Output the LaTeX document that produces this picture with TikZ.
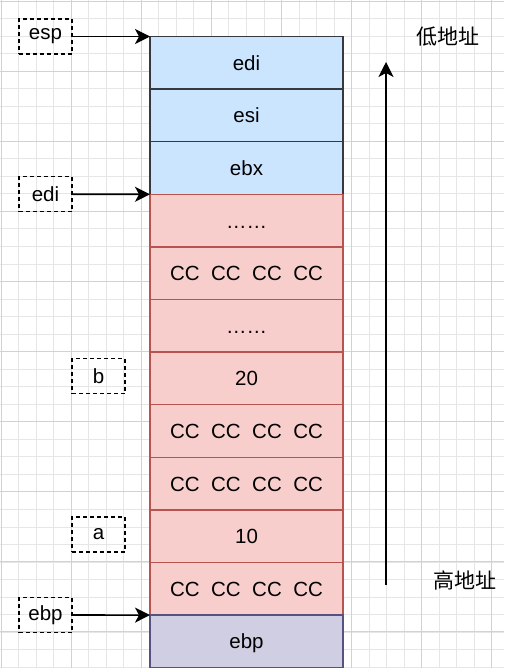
\documentclass[tikz,border=0pt]{standalone}
\usepackage{fontspec}
\setmainfont{Liberation Sans}
\newfontfamily\cjk{Noto Sans CJK SC}
\usetikzlibrary{positioning,arrows.meta}

\definecolor{gridmin}{HTML}{E6E6E6}
\definecolor{gridmaj}{HTML}{D2D2D2}
\definecolor{bluefill}{HTML}{CCE5FF}
\definecolor{blueline}{HTML}{36393D}
\definecolor{pinkfill}{HTML}{F8CECC}
\definecolor{pinkline}{HTML}{B85450}
\definecolor{purpfill}{HTML}{D0CEE2}
\definecolor{purpline}{HTML}{56517E}

\newcommand{\cc}{CC\hspace{11.5pt}CC\hspace{11.5pt}CC\hspace{11.5pt}CC}

\begin{document}
\begin{tikzpicture}[x=1pt, y=-1pt,
  >={Stealth[length=15pt, width=15pt, inset=4pt]},
  gmin/.style={draw=gridmin, line width=0.8pt},
  gmaj/.style={draw=gridmaj, line width=0.9pt},
  cell/.style={draw, line width=1.3pt, outer sep=0pt, inner sep=0pt,
               minimum width=193pt, minimum height=52.6pt,
               text height=14.8pt, text depth=0pt,
               font=\fontsize{20.5}{24}\selectfont},
  bl/.style={cell, fill=bluefill, draw=blueline},
  pk/.style={cell, fill=pinkfill, draw=pinkline},
  pp/.style={cell, fill=purpfill, draw=purpline},
  ptr/.style={draw, dash pattern=on 4pt off 3pt, line width=1.3pt,
              inner sep=0pt, minimum width=53pt, minimum height=35pt,
              font=\fontsize{20.5}{24}\selectfont},
  lb/.style={font=\cjk\fontsize{21}{25}\selectfont, inner sep=0pt},
  pa/.style={->, line width=1.6pt}]

  \useasboundingbox (0,0) rectangle (504,668);
  \fill[white] (0,0) rectangle (504,668);

  % background grid
  \foreach \i in {0,...,28}
    \draw[gmin] ({1+17.53*\i},0) -- ++(0,668);
  \foreach \j in {0,...,38}
    \draw[gmin] (0,{1+17.53*\j}) -- ++(504,0);
  \foreach \i in {0,...,7}
    \draw[gmaj] ({1+70.1*\i},0) -- ++(0,668);
  \foreach \j in {0,...,9}
    \draw[gmaj] (0,{1+70.1*\j}) -- ++(504,0);

  % stack frame
  \node[bl] (c1) at (246.5,62.8) {edi};
  \node[bl, below=0pt of c1] (c2) {esi};
  \node[bl, below=0pt of c2] (c3) {ebx};
  \node[pk, below=0pt of c3] (c4) {……};
  \node[pk, below=0pt of c4] (c5) {\cc};
  \node[pk, below=0pt of c5] (c6) {……};
  \node[pk, below=0pt of c6] (c7) {20};
  \node[pk, below=0pt of c7] (c8) {\cc};
  \node[pk, below=0pt of c8] (c9) {\cc};
  \node[pk, below=0pt of c9] (c10) {10};
  \node[pk, below=0pt of c10] (c11) {\cc};
  \node[pp, below=0pt of c11] (c12) {ebp};

  % pointers
  \node[ptr] (esp) at (45.5,36.5) {esp};
  \node[ptr] (pedi) at (45.5,194.3) {edi};
  \node[ptr] (pb) at (98.5,376) {b};
  \node[ptr] (pa) at (98.5,534.5) {a};
  \node[ptr] (pebp) at (45.5,615) {ebp};

  \draw[pa] (esp.east) -- (c1.north west);
  \draw[pa] (pedi.east) -- (c3.south west);
  \draw[pa] (pebp.east) -- (c11.south west);

  % address direction
  \coordinate (hi) at (386,585);
  \coordinate (lo) at (386,62);
  \draw[pa] (hi) -- (lo);
  \node[lb] (low) at (448,37) {低地址};
  \node[lb] (high) at (465,580) {高地址};
\end{tikzpicture}
\end{document}
